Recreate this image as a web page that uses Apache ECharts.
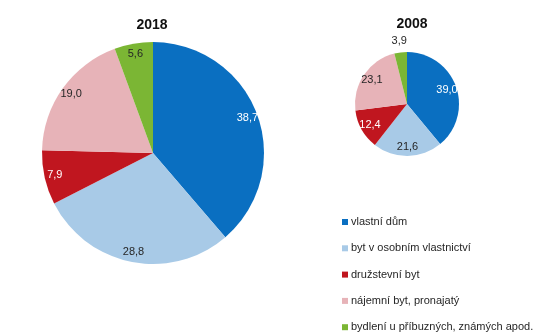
<!DOCTYPE html>
<html>
<head>
<meta charset="utf-8">
<script src="https://cdn.jsdelivr.net/npm/echarts@6/dist/echarts.min.js"></script>
<style>
  html, body { margin: 0; padding: 0; background: #ffffff; }
  #chart { width: 555px; height: 334px; }
</style>
</head>
<body>
<div id="chart"></div>
<script>
// Housing types (share of households, %)
const categories = [
  'vlastní dům',
  'byt v osobním vlastnictví',
  'družstevní byt',
  'nájemní byt, pronajatý',
  'bydlení u příbuzných, známých apod.'
];
const values2018 = [38.7, 28.8, 7.9, 19.0, 5.6];
const values2008 = [39.0, 21.6, 12.4, 23.1, 3.9];
// Which 2008 labels sit just outside the small pie
const outside2008 = [false, false, false, false, true];

const colors = ['#0a6fc1', '#a8cae7', '#c0161f', '#e7b3b8', '#7bb634'];
const labelColors = ['#ffffff', '#262626', '#ffffff', '#262626', '#262626'];
const FONT = '"Liberation Sans", Arial, sans-serif';

const fmt = v => v.toFixed(1).replace('.', ',');

function sliceData(values) {
  return values.map((v, i) => ({ name: categories[i], value: v, itemStyle: { color: colors[i] } }));
}

function labelData(values, visible) {
  return values.map((v, i) => ({
    name: categories[i],
    value: v,
    label: { show: visible ? visible[i] : true, color: labelColors[i] }
  }));
}

const base = { type: 'pie', startAngle: 90, clockwise: true, animation: false };
const labelSeries = {
  ...base,
  silent: true,
  itemStyle: { color: 'transparent' },
  emphasis: { disabled: true },
  labelLine: { show: false },
  label: {
    position: 'inside',
    fontFamily: FONT,
    fontSize: 11,
    formatter: p => fmt(p.value)
  },
  legendHoverLink: false
};

const c18 = [153, 153], r18 = 111;
const c08 = [407, 104], r08 = 52;

const chart = echarts.init(document.getElementById('chart'), null, { renderer: 'canvas' });
chart.setOption({
  backgroundColor: '#ffffff',
  title: [
    { text: '2018', left: 147, top: 13, textAlign: 'center',
      textStyle: { fontFamily: FONT, fontSize: 14, fontWeight: 'bold', color: '#111' } },
    { text: '2008', left: 407, top: 12, textAlign: 'center',
      textStyle: { fontFamily: FONT, fontSize: 14, fontWeight: 'bold', color: '#111' } }
  ],
  legend: {
    orient: 'vertical',
    left: 342,
    top: 215,
    height: 140,
    padding: 0,
    itemWidth: 6,
    itemHeight: 6,
    itemGap: 12.3,
    icon: 'rect',
    data: categories,
    selectedMode: false,
    textStyle: { fontFamily: FONT, fontSize: 11, color: '#262626', lineHeight: 14, padding: [0, 0, 0, -2] }
  },
  series: [
    { ...base, name: '2018', center: c18, radius: [0, r18], label: { show: false }, labelLine: { show: false },
      data: sliceData(values2018) },
    { ...labelSeries, name: '2018 popisky', center: c18, radius: [r18 * 0.76, r18],
      data: labelData(values2018) },
    { ...base, name: '2008', center: c08, radius: [0, r08], label: { show: false }, labelLine: { show: false },
      data: sliceData(values2008) },
    { ...labelSeries, name: '2008 popisky', center: c08, radius: [r08 * 0.52, r08],
      data: labelData(values2008, outside2008.map(o => !o)) },
    { ...labelSeries, name: '2008 popisky vně', center: c08, radius: [r08 * 1.08, r08 * 1.24],
      data: labelData(values2008, outside2008) }
  ]
});
</script>
</body>
</html>
